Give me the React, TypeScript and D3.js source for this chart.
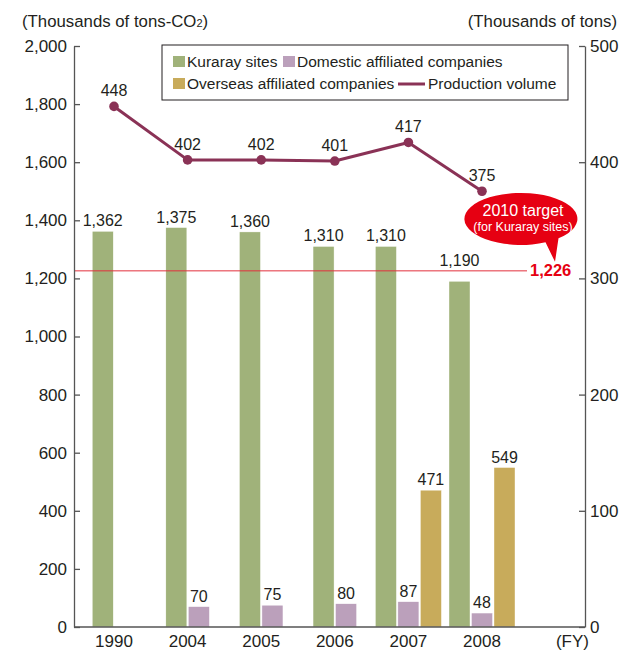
import * as React from 'react';
import * as d3 from 'd3';

const years = ['1990', '2004', '2005', '2006', '2007', '2008'];
const kuraray = [1362, 1375, 1360, 1310, 1310, 1190];
const domestic: (number | null)[] = [null, 70, 75, 80, 87, 48];
const overseas: (number | null)[] = [null, null, null, null, 471, 549];
const production = [448, 402, 402, 401, 417, 375];
const leftTicks = [0, 200, 400, 600, 800, 1000, 1200, 1400, 1600, 1800, 2000];
const rightTicks = [0, 100, 200, 300, 400, 500];
const target = 1226;

const FONT = '"Liberation Sans", Arial, Helvetica, sans-serif';
const INK = '#231f20';
const colors = { kuraray: '#a0b27a', domestic: '#bba0bb', overseas: '#c8ab5b', line: '#8a3256', red: '#e60012' };

export default function App() {
  const width = 621;
  const height = 653;
  const left = 74;
  const right = 585;
  const top = 46;
  const bottom = 627;

  const leftRef = React.useRef<SVGGElement | null>(null);
  const rightRef = React.useRef<SVGGElement | null>(null);

  const x = d3.scalePoint<string>().domain(years).range([114, 482]);
  const yL = d3.scaleLinear().domain([0, 2000]).range([bottom, top]);
  const yR = d3.scaleLinear().domain([0, 500]).range([bottom, top]);
  const fmt = d3.format(',');
  const slotStep = 22.5;
  const barW = 21;

  React.useEffect(() => {
    if (leftRef.current) {
      const g = d3.select(leftRef.current);
      g.selectAll('*').remove();
      g.call(d3.axisLeft(yL).tickValues(leftTicks).tickSize(-6).tickSizeOuter(0).tickPadding(7).tickFormat((d) => fmt(d as number)));
      g.selectAll('path, line').attr('stroke', '#555').attr('stroke-width', 1.3);
      g.selectAll('text').attr('font-size', 17).attr('font-family', FONT).attr('fill', INK);
    }
    if (rightRef.current) {
      const g = d3.select(rightRef.current);
      g.selectAll('*').remove();
      g.call(d3.axisRight(yR).tickValues(rightTicks).tickSize(-6).tickSizeOuter(0).tickPadding(5));
      g.selectAll('path, line').attr('stroke', '#555').attr('stroke-width', 1.3);
      g.selectAll('text').attr('font-size', 17).attr('font-family', FONT).attr('fill', INK);
    }
  }, []);

  const ty = yL(target);

  type Bar = { key: string; year: string; value: number; cx: number; color: string };
  const bars: Bar[] = [];
  years.forEach((yr, i) => {
    const n = overseas[i] == null ? 2 : 3;
    const sub = d3
      .scaleBand<number>()
      .domain(d3.range(n))
      .range([(x(yr) as number) - (n * slotStep) / 2, (x(yr) as number) + (n * slotStep) / 2]);
    const cx = (k: number) => (sub(k) as number) + sub.bandwidth() / 2;
    bars.push({ key: 'k' + yr, year: yr, value: kuraray[i], cx: cx(0), color: colors.kuraray });
    if (domestic[i] != null) bars.push({ key: 'd' + yr, year: yr, value: domestic[i] as number, cx: cx(1), color: colors.domestic });
    if (overseas[i] != null) bars.push({ key: 'o' + yr, year: yr, value: overseas[i] as number, cx: cx(2), color: colors.overseas });
  });

  // lift a value label that would sit on the target line
  const labelY = (v: number) => {
    const yy = yL(v) - 5;
    return yy > ty - 2 && yy - 13 < ty ? ty - 5 : yy;
  };

  const linePts = years.map((yr, i) => [x(yr) as number, yR(production[i])] as [number, number]);
  const linePath = d3.line()(linePts) || '';

  // callout bubble
  const cx0 = 521.5;
  const cy0 = ty - 52;
  const rx = 56.5;
  const ry = 26;
  const bubble =
    `M ${cx0 + 24} ${cy0 + ry - 2.5} L ${cx0 + 33.5} ${ty - 9} L ${cx0 + 37} ${cy0 + ry - 6.5} ` +
    `A ${rx} ${ry} 0 1 0 ${cx0 + 24} ${cy0 + ry - 2.5} Z`;

  const legendText = { fontFamily: FONT, fontSize: 15.5, fill: INK };

  return (
    <svg width={width} height={height} style={{ display: 'block', position: 'absolute', left: 0, top: 0 }}>
      <rect width={width} height={height} fill="#fff" />
      <text x={22} y={27} fontFamily={FONT} fontSize={16.8} fill={INK}>
        (Thousands of tons-CO<tspan fontSize={11}>2</tspan>)
      </text>
      <text x={617} y={27} fontFamily={FONT} fontSize={16.8} fill={INK} textAnchor="end">
        (Thousands of tons)
      </text>

      {bars.map((b) => (
        <g key={b.key}>
          <rect x={b.cx - barW / 2} y={yL(b.value)} width={barW} height={bottom - yL(b.value)} fill={b.color} stroke="#fff" strokeWidth={0.4} />
          <text x={b.cx} y={labelY(b.value)} textAnchor="middle" fontFamily={FONT} fontSize={16} fill={INK}>
            {fmt(b.value)}
          </text>
        </g>
      ))}

      <line x1={left} x2={527} y1={ty} y2={ty} stroke="#e2303c" strokeWidth={1} />

      <path d={linePath} fill="none" stroke={colors.line} strokeWidth={3} strokeLinejoin="round" />
      {linePts.map((p, i) => (
        <g key={years[i]}>
          <circle cx={p[0]} cy={p[1]} r={4.8} fill={colors.line} />
          <text x={p[0]} y={p[1] - 10} textAnchor="middle" fontFamily={FONT} fontSize={16} fill={INK}>
            {production[i]}
          </text>
        </g>
      ))}

      <path d={bubble} fill={colors.red} />
      <text x={cx0 + 1.5} y={cy0 - 3} textAnchor="middle" fontFamily={FONT} fontSize={16} fill="#fff">
        2010 target
      </text>
      <text x={cx0 + 1.5} y={cy0 + 12} textAnchor="middle" fontFamily={FONT} fontSize={12.5} fill="#fff">
        (for Kuraray sites)
      </text>
      <text x={530} y={ty + 5} fontFamily={FONT} fontSize={16.5} fontWeight="bold" fill={colors.red}>
        {fmt(target)}
      </text>

      <g ref={leftRef} transform={`translate(${left},0)`} />
      <g ref={rightRef} transform={`translate(${right},0)`} />
      <line x1={left} x2={right} y1={bottom} y2={bottom} stroke="#555" strokeWidth={1.3} />

      {years.map((yr) => (
        <text key={yr} x={x(yr) as number} y={647} textAnchor="middle" fontFamily={FONT} fontSize={17} fill={INK}>
          {yr}
        </text>
      ))}
      <text x={589} y={647} textAnchor="end" fontFamily={FONT} fontSize={17} fill={INK}>
        (FY)
      </text>

      <rect x={162} y={45} width={406} height={55} fill="#fff" stroke={INK} strokeWidth={1} />
      <rect x={173} y={56} width={12} height={11} fill={colors.kuraray} />
      <text x={187} y={67} {...legendText}>Kuraray sites</text>
      <rect x={283} y={56} width={12} height={11} fill={colors.domestic} />
      <text x={297} y={67} {...legendText}>Domestic affiliated companies</text>
      <rect x={173} y={78} width={12} height={11} fill={colors.overseas} />
      <text x={187} y={89} {...legendText}>Overseas affiliated companies</text>
      <line x1={398} x2={425} y1={84} y2={84} stroke={colors.line} strokeWidth={3} />
      <text x={428} y={89} {...legendText}>Production volume</text>
    </svg>
  );
}
